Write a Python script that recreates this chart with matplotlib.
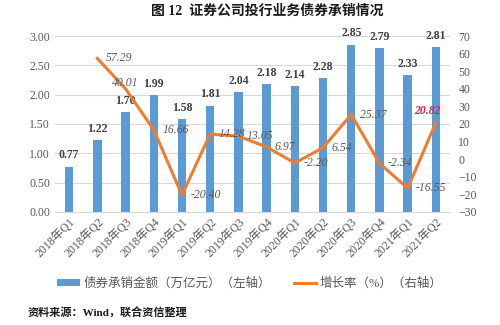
import matplotlib
matplotlib.use("Agg")
import matplotlib.pyplot as plt
from matplotlib.patches import Patch
from matplotlib.lines import Line2D

plt.rcParams['font.family'] = ['Liberation Serif', 'Noto Sans CJK SC', 'DejaVu Sans']

categories = ['2018年Q1', '2018年Q2', '2018年Q3', '2018年Q4', '2019年Q1', '2019年Q2',
              '2019年Q3', '2019年Q4', '2020年Q1', '2020年Q2', '2020年Q3', '2020年Q4',
              '2021年Q1', '2021年Q2']
amounts = [0.77, 1.22, 1.70, 1.99, 1.58, 1.81, 2.04, 2.18, 2.14, 2.28, 2.85, 2.79, 2.33, 2.81]
growth = [None, 57.29, 40.01, 16.66, -20.40, 14.28, 13.05, 6.97, -2.20, 6.54, 25.37, -2.34, -16.55, 20.82]
left_ticks = [0.0, 0.5, 1.0, 1.5, 2.0, 2.5, 3.0]
right_ticks = [-30, -20, -10, 0, 10, 20, 30, 40, 50, 60, 70]

blue = '#5B9BD5'
orange = '#ED7D31'
grey = '#595959'

fig = plt.figure(figsize=(5, 3.25), dpi=100)
ax = fig.add_axes([0.11, 0.348, 0.79, 0.541])
x = list(range(len(categories)))
ax.bar(x, amounts, width=0.3, color=blue, zorder=2)
ax.set_xlim(-0.5, len(categories) - 0.5)
ax.set_ylim(0, 3.0)
ax.set_yticks(left_ticks)
ax.set_yticklabels([f'{v:.2f}' for v in left_ticks])
ax.yaxis.grid(True, color='#D9D9D9', linewidth=0.8, zorder=0)
ax.set_axisbelow(True)
for s in ['top', 'right', 'left']:
    ax.spines[s].set_visible(False)
ax.spines['bottom'].set_color('#D9D9D9')
ax.tick_params(axis='both', length=0, colors=grey, labelsize=8.5)
ax.set_xticks(x)
ax.set_xticklabels(categories, rotation=45, ha='right', rotation_mode='anchor')
ax.tick_params(axis='x', pad=3)

for xi, v in zip(x, amounts):
    ax.annotate(f'{v:.2f}', (xi, v), xytext=(0, 4), textcoords='offset points',
                ha='center', va='bottom', fontsize=8.5, fontweight='bold', color='#404040')

ax2 = ax.twinx()
ax2.set_ylim(-30, 70)
ax2.set_yticks(right_ticks)
for s in ['top', 'right', 'left', 'bottom']:
    ax2.spines[s].set_visible(False)
ax2.tick_params(axis='y', length=0, colors=grey, labelsize=8.5, pad=6)
gx = [xi for xi, g in zip(x, growth) if g is not None]
gy = [g for g in growth if g is not None]
ax2.plot(gx, gy, color=orange, linewidth=2.2, zorder=3, solid_joinstyle='miter')

for xi, g in zip(gx, gy):
    if xi == 13:
        ax2.annotate(f'{g:.2f}', (xi, g), xytext=(-6, 8), textcoords='offset points',
                     ha='center', va='center', fontsize=8.5, fontstyle='italic',
                     fontweight='bold', color='#E0204A')
    elif xi == 2:
        ax2.annotate(f'{g:.2f}', (xi, g), xytext=(0, 4), textcoords='offset points',
                     ha='center', va='center', fontsize=8.5, fontstyle='italic', color=grey)
    else:
        ax2.annotate(f'{g:.2f}', (xi, g), xytext=(6, 0), textcoords='offset points',
                     ha='left', va='center', fontsize=8.5, fontstyle='italic', color=grey)

handles = [Patch(facecolor=blue, edgecolor='none'),
           Line2D([0], [0], color=orange, linewidth=2.2)]
labels = ['债券承销金额（万亿元）（左轴）', '增长率（%）（右轴）']
fig.legend(handles, labels, loc='center', bbox_to_anchor=(0.5, 0.128), ncol=2,
           frameon=False, fontsize=9, labelcolor=grey, handlelength=1.8,
           handleheight=0.45, columnspacing=1.8, handletextpad=0.3)

fig.text(0.535, 0.965, '图 12  证券公司投行业务债券承销情况', ha='center', va='center',
         fontsize=10, fontweight='bold', color='#1a1a1a')
fig.text(0.056, 0.037, '资料来源：Wind，联合资信整理', ha='left', va='center',
         fontsize=8, fontweight='bold', color='#1a1a1a')

fig.savefig('out.png', dpi=100)
